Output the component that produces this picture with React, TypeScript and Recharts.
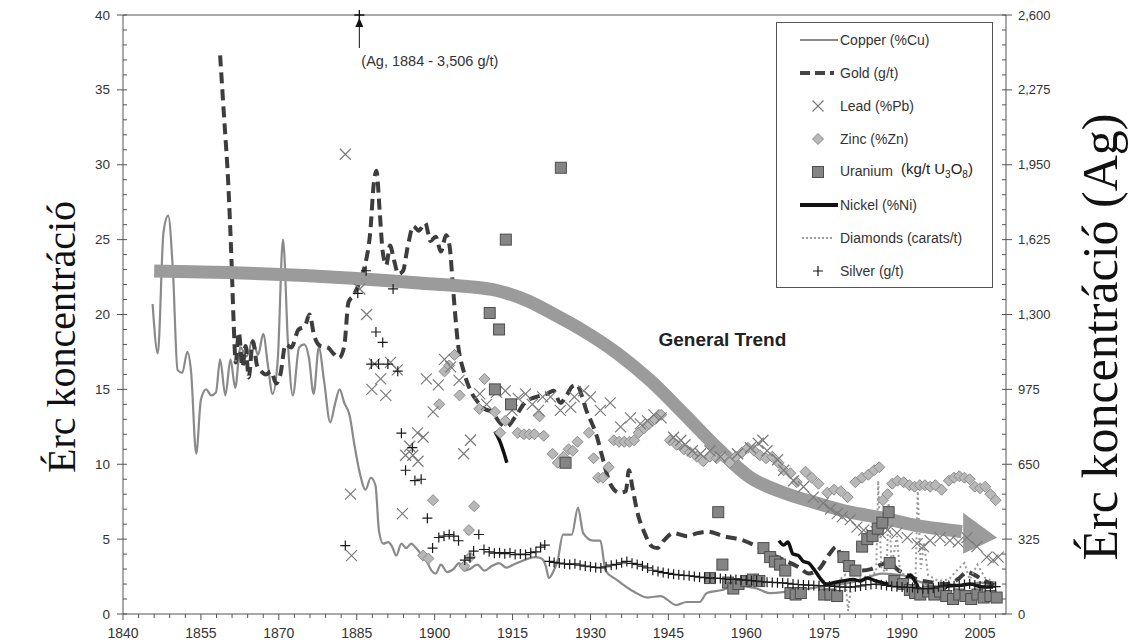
import React from 'react';
import { ComposedChart, Line, Scatter, XAxis, YAxis, ReferenceLine, ReferenceDot, Legend } from 'recharts';

type Pt = [number, number];

// year, % or g/t (left axis)
const copper: Pt[] = [
  [1845.7, 20.7], [1846.7, 17.4], [1847.8, 25.5], [1848.7, 26.6], [1849.6, 23], [1850.5, 16.3], [1851.4, 16.1],
  [1852.4, 17.5], [1853.1, 16.2], [1854.1, 10.7], [1855.0, 14.3], [1856.0, 15.0], [1857.0, 14.6], [1857.9, 14.8],
  [1858.7, 17.0], [1859.7, 14.6], [1860.7, 17.0], [1861.6, 15.1], [1862.6, 17.8], [1863.8, 17.2], [1865.0, 18.3],
  [1866.0, 17.3], [1867.0, 18.7], [1867.9, 16.6], [1868.8, 14.7], [1869.8, 17.0], [1870.8, 25.0], [1871.8, 17.8],
  [1872.7, 14.6], [1873.9, 17.8], [1874.9, 18.0], [1875.8, 17.1], [1876.7, 14.7], [1877.7, 17.8], [1878.7, 15.6],
  [1879.9, 12.8], [1880.8, 14.0], [1881.7, 15.0], [1882.6, 14.1], [1883.6, 13.3], [1884.6, 11.2], [1885.6, 9.4],
  [1886.7, 8.3], [1887.7, 9.1], [1888.6, 8.6], [1889.3, 5.5], [1890.1, 4.7], [1891.1, 4.8], [1891.8, 4.5],
  [1892.6, 3.9], [1893.6, 4.7], [1894.5, 4.4], [1895.5, 4.7], [1896.4, 4.4], [1897.4, 4.0], [1898.5, 3.5],
  [1899.4, 2.9], [1900.2, 2.7], [1901.2, 3.3], [1902.4, 2.8], [1903.6, 3.0], [1904.7, 3.4], [1905.7, 2.9],
  [1906.8, 3.0], [1908.2, 3.3], [1909.6, 2.9], [1911.0, 3.2], [1912.4, 3.4], [1913.8, 3.1], [1915.2, 3.3],
  [1916.6, 3.5], [1918.0, 3.7], [1919.4, 3.8], [1920.6, 3.7], [1921.4, 3.2], [1922.0, 2.4], [1922.8, 2.8],
  [1923.7, 3.6], [1924.7, 5.3], [1926.4, 5.3], [1927.6, 7.1], [1928.6, 5.4], [1930.5, 4.9], [1931.9, 4.9],
  [1932.9, 2.9], [1935.0, 2.3], [1938.3, 1.5], [1941.0, 1.1], [1943.5, 1.2], [1946.5, 0.6], [1948.5, 0.8],
  [1951.0, 0.8], [1952.4, 1.4], [1955.4, 1.6], [1958.0, 1.9], [1962.0, 1.7], [1964.5, 1.4], [1968, 1.5],
  [1972, 1.7], [1976, 1.9], [1980, 2.1], [1983, 2.4], [1986, 2.7], [1990, 2.6], [1993, 2.2], [1997, 1.8],
  [2001, 1.9], [2005, 2.1], [2008, 1.8],
];

const gold: Pt[] = [
  [1858.7, 37.3], [1859.4, 33.5], [1860.3, 28.5], [1860.9, 23.5], [1861.3, 19.5], [1861.7, 16.8], [1862.3, 18.8],
  [1863.0, 16.5], [1863.6, 17.9], [1864.2, 15.8], [1865.0, 18.2], [1865.8, 16.6], [1866.6, 16.2], [1867.5, 16.0],
  [1868.5, 16.2], [1869.5, 15.4], [1870.3, 16.0], [1871.3, 18.0], [1872.4, 17.8], [1873.8, 19.0], [1875.0, 19.2],
  [1875.9, 20.0], [1876.8, 18.6], [1878.0, 17.9], [1879.4, 17.8], [1880.5, 17.4], [1881.6, 17.1], [1882.6, 17.9],
  [1883.4, 20.8], [1884.4, 21.3], [1885.6, 22.2], [1886.6, 23.3], [1887.6, 25.5], [1888.3, 28.8], [1888.8, 29.6],
  [1889.4, 27.0], [1890.0, 24.2], [1890.7, 23.3], [1891.4, 24.6], [1892.2, 23.6], [1893.0, 22.7], [1893.9, 22.9],
  [1894.8, 24.5], [1895.9, 25.9], [1896.9, 25.6], [1898.2, 26.1], [1899.2, 24.9], [1900.2, 25.2], [1901.2, 24.2],
  [1902.2, 25.3], [1902.9, 24.5], [1903.6, 21.5], [1904.5, 18.0], [1905.6, 16.2], [1906.8, 15.0], [1908.2, 14.2],
  [1909.6, 13.7], [1911.0, 13.5], [1912.5, 12.8], [1913.8, 12.5], [1915.4, 13.1], [1917.6, 14.2], [1919.6, 14.5],
  [1921.6, 14.7], [1922.9, 14.9], [1924.2, 14.1], [1925.4, 14.6], [1926.5, 15.2], [1927.4, 15.3], [1928.4, 14.5],
  [1929.2, 13.6], [1930.2, 12.8], [1931.2, 11.9], [1932.2, 10.6], [1933.8, 8.7], [1935.6, 8.1], [1936.8, 8.2],
  [1937.4, 9.6], [1938.1, 8.4], [1939.1, 6.7], [1940.3, 5.5], [1941.9, 4.5], [1942.9, 4.4], [1944.1, 4.9],
  [1946.0, 5.4], [1948.6, 5.2], [1950.6, 5.4], [1952.5, 5.5], [1955.6, 5.2], [1959.5, 4.9], [1962.7, 4.4],
  [1966.0, 3.8], [1968.5, 3.4], [1970.2, 3.1], [1972, 2.7], [1974, 3.0], [1976, 4.0], [1977.4, 4.5],
  [1978.5, 3.5], [1980, 3.2], [1982, 2.9], [1984, 3.0], [1986, 3.3], [1987.5, 3.5], [1989, 3.0], [1991, 2.6],
  [1993, 2.3], [1996, 2.1], [1999, 2.0], [2001, 2.4], [2002.5, 2.8], [2004, 2.6], [2006, 2.2], [2008, 2.0],
];

const lead: Pt[] = [
  [1882.8, 30.7], [1883.8, 8.0], [1884.0, 3.9], [1885.6, 21.7], [1886.9, 20.0], [1887.9, 15.0], [1888.4, 16.7],
  [1889.6, 15.7], [1890.6, 14.6], [1891.5, 16.8], [1892.8, 16.3], [1893.8, 6.7], [1894.4, 10.6], [1895.2, 11.2],
  [1895.8, 10.6], [1896.7, 12.1], [1896.8, 10.2], [1897.8, 11.8], [1898.4, 15.7], [1899.7, 13.5], [1900.7, 15.3],
  [1901.9, 17.0], [1903.1, 16.5], [1904.7, 15.6], [1905.6, 10.7], [1906.9, 11.6], [1908.7, 14.7], [1910.0, 14.0],
  [1911.9, 14.8], [1913.6, 14.9], [1914.9, 13.6], [1916.1, 14.4], [1917.5, 14.7], [1918.8, 14.0], [1920.0, 13.6],
  [1920.8, 14.5], [1922.3, 14.5], [1924.2, 13.6], [1926.2, 13.8], [1926.9, 14.5], [1928.7, 14.9], [1930.0, 14.5],
  [1931.9, 13.6], [1933.8, 14.1], [1935.8, 12.5], [1937.7, 13.1], [1939.6, 12.7], [1941.0, 12.9], [1942.2, 13.3],
  [1943.6, 13.1], [1946.0, 11.8], [1947.4, 11.6], [1948.2, 11.3], [1949.6, 10.9], [1951.2, 10.7], [1953.0, 10.9],
  [1955.0, 10.5], [1958.3, 10.7], [1960.8, 11.1], [1962.3, 11.4], [1963.2, 11.6], [1964.0, 10.9], [1966.0, 10.3],
  [1967.2, 9.6], [1969.1, 8.9], [1971.0, 8.5], [1972.9, 7.8], [1974.8, 7.4], [1976.2, 7.0], [1977.5, 6.7],
  [1978.5, 6.5], [1980.0, 6.3], [1981.3, 5.8], [1982.6, 5.6], [1983.9, 5.4], [1985.0, 5.5], [1985.8, 5.4],
  [1987.2, 5.6], [1989.0, 5.4], [1991.0, 5.1], [1992.9, 4.7], [1994.1, 4.5], [1995.4, 4.9], [1997.3, 5.1],
  [1999.2, 4.9], [2000.8, 4.8], [2002.5, 5.1], [2004.4, 4.5], [2006.3, 3.8], [2007.5, 3.6], [2008.5, 3.8],
];

const zinc: Pt[] = [
  [1897.8, 3.9], [1898.8, 3.7], [1899.7, 7.6], [1900.9, 14.0], [1901.9, 16.2], [1902.8, 16.6], [1903.8, 17.3],
  [1904.8, 14.6], [1905.7, 3.2], [1906.6, 5.6], [1906.8, 3.8], [1907.6, 7.2], [1908.6, 13.7], [1909.6, 15.7],
  [1911.6, 13.5], [1912.6, 12.1], [1913.6, 12.9], [1916.0, 12.1], [1917.2, 12.0], [1918.2, 12.0], [1919.2, 12.0],
  [1920.2, 13.2], [1921.0, 11.9], [1922.7, 10.7], [1923.7, 10.1], [1924.8, 10.5], [1925.8, 11.0], [1926.6, 10.9],
  [1927.5, 11.5], [1929.7, 12.1], [1930.6, 10.4], [1931.5, 9.1], [1932.4, 9.1], [1933.5, 9.8], [1934.5, 11.6],
  [1935.5, 11.5], [1936.5, 11.5], [1937.5, 11.5], [1938.4, 11.6], [1939.3, 12.1], [1940.3, 12.4], [1941.3, 12.7],
  [1942.4, 13.0], [1943.6, 13.3], [1945.3, 11.6], [1946.6, 11.3], [1948.0, 11.0], [1949.2, 10.8], [1950.5, 10.5],
  [1951.7, 10.2], [1953.0, 10.5], [1954.3, 10.4], [1955.5, 10.5], [1956.8, 10.1], [1958.0, 10.5], [1959.2, 10.8],
  [1960.3, 11.1], [1961.5, 10.9], [1962.6, 10.6], [1963.8, 10.4], [1965.0, 10.5], [1966.2, 10.1], [1967.2, 9.6],
  [1968.5, 9.4], [1969.7, 8.8], [1971.4, 9.5], [1972.6, 9.1], [1973.9, 8.7], [1975.6, 8.1], [1976.9, 8.3],
  [1978.2, 8.2], [1979.5, 7.8], [1981.0, 8.8], [1982.3, 9.1], [1983.5, 9.3], [1984.6, 9.6], [1985.6, 9.8],
  [1986.3, 7.6], [1987.2, 8.0], [1988.1, 8.7], [1989.1, 8.9], [1990.3, 8.8], [1991.4, 8.6], [1992.4, 8.5],
  [1993.4, 8.6], [1994.4, 8.6], [1995.4, 8.5], [1996.4, 8.6], [1997.6, 8.3], [1999.0, 8.9], [2000.0, 9.1],
  [2001.0, 9.2], [2002.0, 9.1], [2003.0, 9.0], [2004.0, 8.5], [2005.0, 8.4], [2006.0, 8.5], [2007.0, 8.0],
  [2008.0, 7.6],
];

const uranium: Pt[] = [
  [1910.6, 20.1], [1911.6, 15.0], [1912.4, 19.0], [1913.7, 25.0], [1914.7, 14.0], [1924.3, 29.8], [1925.2, 10.1],
  [1953.0, 2.4], [1954.6, 6.8], [1955.4, 3.3], [1956.5, 2.1], [1957.5, 1.7], [1958.5, 2.0], [1960.0, 2.2],
  [1961.3, 2.3], [1962.5, 2.2], [1963.3, 4.4], [1964.6, 3.8], [1965.5, 3.5], [1966.5, 3.3], [1967.5, 2.9],
  [1968.5, 1.4], [1969.5, 1.3], [1970.5, 1.4], [1975.0, 1.3], [1976.2, 1.3], [1977.5, 1.2], [1978.7, 3.8],
  [1979.8, 3.2], [1981.0, 2.9], [1982.3, 4.5], [1983.3, 5.0], [1984.3, 5.2], [1985.3, 5.7], [1986.2, 6.1],
  [1987.4, 6.8], [1987.6, 3.4], [1988.5, 2.2], [1990.2, 2.0], [1991.5, 1.6], [1992.5, 1.4], [1993.5, 1.3],
  [1995.0, 1.5], [1996.2, 1.3], [1997.3, 1.5], [1998.5, 1.2], [1999.8, 1.0], [2001.0, 1.3], [2002.2, 1.2],
  [2003.3, 1.0], [2004.5, 1.3], [2005.7, 1.1], [2007.0, 1.2], [2008.2, 1.1],
];

const nickelEarly: Pt[] = [[1911.6, 12.2], [1912.6, 11.5], [1913.3, 10.8], [1913.9, 10.1]];
const nickelLate: Pt[] = [
  [1966.3, 4.9], [1967.2, 4.6], [1968.0, 4.8], [1969.0, 4.0], [1970.0, 3.9], [1971.0, 3.5], [1972.0, 3.4],
  [1973.0, 3.0], [1974.2, 2.4], [1975.4, 2.0], [1977, 2.1], [1978.5, 2.2], [1980.6, 2.3], [1982, 2.2],
  [1983.3, 2.4], [1985, 2.2], [1987.7, 2.0], [1990.2, 2.1], [1991.6, 2.6], [1992.6, 2.1], [1993.8, 1.4],
  [1996.7, 1.4], [1999.2, 1.9], [2001, 1.9], [2003, 2.0], [2005.6, 1.8], [2007.5, 1.8],
];

const diamonds: Pt[] = [
  [1975, 1.6], [1977, 2.0], [1979, 2.6], [1979.6, 0.2], [1980.3, 2.2], [1982, 2.4], [1984, 2.6], [1985.0, 2.8],
  [1985.4, 8.9], [1986.0, 3.0], [1987.0, 2.8], [1987.4, 7.4], [1988.0, 3.2], [1989.0, 5.2], [1989.6, 2.8],
  [1991, 2.5], [1992.6, 2.6], [1993.0, 8.2], [1993.6, 3.0], [1994.2, 4.8], [1995, 2.6], [1997, 2.2], [1999, 2.3],
  [2000.5, 2.9], [2002, 3.4], [2003, 2.3], [2004.5, 3.3], [2006, 2.4], [2008, 2.1],
];

// g/t, right axis
const silver: Pt[] = [
  [1882.8, 297], [1885.2, 1392], [1886.8, 1490], [1887.8, 1085], [1888.7, 1224], [1889.2, 1085], [1890.0, 1179],
  [1891.0, 1085], [1892.0, 1411], [1892.9, 1054], [1893.6, 785], [1894.4, 624], [1895.7, 722], [1896.2, 579],
  [1897.4, 585], [1898.6, 416], [1899.6, 286], [1900.8, 332], [1901.8, 338], [1902.8, 345], [1903.7, 338],
  [1904.6, 318], [1905.8, 234], [1906.8, 244], [1907.5, 273], [1908.5, 345], [1909.5, 280], [1910.5, 270],
  [1911.5, 264], [1912.5, 266], [1913.5, 262], [1914.5, 266], [1915.5, 258], [1916.5, 260], [1917.5, 258],
  [1918.5, 266], [1919.5, 270], [1920.4, 290], [1921.2, 299], [1922.1, 228],
  [1923, 224], [1924, 221], [1925, 218], [1926, 215], [1927, 218], [1928, 212], [1929, 208], [1930, 205],
  [1931, 202], [1932, 200], [1933, 205], [1934, 212], [1935, 215], [1936, 222], [1937, 228], [1938, 220],
  [1939, 215], [1940, 208], [1941, 200], [1942, 190], [1943, 185], [1944, 180], [1945, 176], [1946, 172],
  [1947, 170], [1948, 168], [1949, 166], [1950, 163], [1951, 160], [1952, 158], [1953, 156], [1954, 156],
  [1955, 154], [1956, 152], [1957, 150], [1958, 150], [1959, 148], [1960, 147], [1961, 145], [1962, 143],
  [1963, 140], [1964, 138], [1965, 137], [1966, 136], [1967, 135], [1968, 133], [1969, 130], [1970, 128],
  [1971, 126], [1972, 125], [1973, 124], [1974, 123], [1975, 123], [1976, 122], [1977, 120], [1978, 118],
  [1979, 117], [1980, 117], [1981, 118], [1982, 122], [1983, 126], [1984, 128], [1985, 130], [1986, 127],
  [1987, 124], [1988, 120], [1989, 118], [1990, 117], [1991, 116], [1992, 115], [1993, 112], [1994, 110],
  [1995, 110], [1996, 112], [1997, 118], [1998, 122], [1999, 124], [2000, 123], [2001, 125], [2002, 128],
  [2003, 130], [2004, 126], [2005, 121], [2006, 118], [2007, 117], [2008, 119],
];

const trend: Pt[] = [
  [1846, 22.9], [1860, 22.8], [1875, 22.6], [1885, 22.4], [1897, 22.1], [1905, 21.9], [1912, 21.6], [1918, 20.9],
  [1922.5, 20.1], [1928.7, 18.9], [1935.2, 17.4], [1941.5, 15.6], [1947.9, 13.4], [1954.4, 11.1], [1960.8, 9.1],
  [1967.2, 8.1], [1973.6, 7.4], [1980, 6.8], [1986.4, 6.4], [1992.8, 5.9], [1999.2, 5.6], [2001.5, 5.5],
];
const trendTip: Pt = [2008.3, 5.1];

const agOutlier = { year: 1885.5, shownAt: 2600, label: '(Ag, 1884 - 3,506 g/t)' };

const xMajor = [1840, 1855, 1870, 1885, 1900, 1915, 1930, 1945, 1960, 1975, 1990, 2005];
const xTicks = Array.from({ length: 57 }, (_, i) => 1840 + i * 3);
const leftTicks = Array.from({ length: 41 }, (_, i) => i);
const rightTicks = Array.from({ length: 41 }, (_, i) => i * 65);

const rows = (pts: Pt[]) => pts.map(([year, v]) => ({ year, v }));
const nickelRows = [...rows(nickelEarly), { year: 1940, v: null }, ...rows(nickelLate)];

const AXIS = '#555';
const SANS = '"Liberation Sans", Arial, sans-serif';
const SERIF = '"Liberation Serif", "DejaVu Serif", serif';

const XTick = ({ x, y, payload }: any) => {
  const major = xMajor.includes(payload.value);
  return (
    <g>
      <line x1={x} x2={x} y1={y} y2={y + (major ? 6 : 4)} stroke={AXIS} />
      {major && (
        <text x={x} y={y + 19} textAnchor="middle" dominantBaseline="central" fontSize={14} fill="#333" fontFamily={SANS}>
          {payload.value}
        </text>
      )}
    </g>
  );
};

const LeftTick = ({ x, y, payload }: any) => {
  const major = payload.value % 5 === 0;
  return (
    <g>
      <line x1={major ? x - 6 : x} x2={x + 4} y1={y} y2={y} stroke={AXIS} />
      {major && (
        <text x={x - 13} y={y} textAnchor="end" dominantBaseline="central" fontSize={13.5} fill="#333" fontFamily={SANS}>
          {payload.value}
        </text>
      )}
    </g>
  );
};

const RightTick = ({ x, y, payload }: any) => {
  const major = payload.value % 325 === 0;
  return (
    <g>
      <line x1={x - 4} x2={major ? x + 6 : x} y1={y} y2={y} stroke={AXIS} />
      {major && (
        <text x={x + 12} y={y} textAnchor="start" dominantBaseline="central" fontSize={13} fill="#333" fontFamily={SANS}>
          {payload.value.toLocaleString('en-US')}
        </text>
      )}
    </g>
  );
};

const Cross = ({ cx, cy }: any) => (
  <path d={`M${cx - 5.5},${cy - 5.5}L${cx + 5.5},${cy + 5.5}M${cx + 5.5},${cy - 5.5}L${cx - 5.5},${cy + 5.5}`} stroke="#7a7a7a" strokeWidth={1.2} fill="none" />
);
const Diamond = ({ cx, cy }: any) => (
  <path d={`M${cx},${cy - 5.5}L${cx + 5.5},${cy}L${cx},${cy + 5.5}L${cx - 5.5},${cy}Z`} fill="#b8b8b8" stroke="#8c8c8c" strokeWidth={1} />
);
const Square = ({ cx, cy }: any) => (
  <rect x={cx - 5.5} y={cy - 5.5} width={11} height={11} fill="#858585" stroke="#4d4d4d" strokeWidth={1} />
);
const Plus = ({ cx, cy }: any) => (
  <path d={`M${cx - 5},${cy}H${cx + 5}M${cx},${cy - 5}V${cy + 5}`} stroke="#1a1a1a" strokeWidth={1.2} fill="none" />
);

const ArrowHead = ({ cx, cy }: any) => (
  <path d={`M${cx},${cy}L${cx - 34},${cy - 25}L${cx - 34},${cy + 16}Z`} fill="#9b9b9b" />
);

const AgNote = ({ cx, cy }: any) => (
  <g>
    <path d={`M${cx - 5},${cy}H${cx + 5}M${cx},${cy - 5}V${cy + 5}`} stroke="#111" strokeWidth={1.3} />
    <path d={`M${cx},${cy + 3}L${cx - 4},${cy + 12}L${cx + 4},${cy + 12}Z`} fill="#111" />
    <line x1={cx} x2={cx} y1={cy + 12} y2={cy + 33} stroke="#111" strokeWidth={1} />
    <text x={cx + 2} y={cy + 46} fontSize={14.5} fill="#333" fontFamily={SANS} dominantBaseline="central">
      {agOutlier.label}
    </text>
  </g>
);

const TrendLabel = ({ cx, cy }: any) => (
  <text x={cx} y={cy} textAnchor="middle" dominantBaseline="central" fontSize={19} fontWeight="bold" fill="#222" fontFamily={SANS}>
    General Trend
  </text>
);

const legendItems = [
  { name: 'Copper (%Cu)', icon: <line x1={0} x2={38} y1={10} y2={10} stroke="#8a8a8a" strokeWidth={2} /> },
  {
    name: 'Gold (g/t)',
    icon: (
      <g>
        <path d="M0,10H10M15,10H25" stroke="#444" strokeWidth={4} />
        <rect x={30} y={8} width={4} height={4} fill="#444" />
      </g>
    ),
  },
  { name: 'Lead (%Pb)', icon: <Cross cx={18} cy={10} /> },
  { name: 'Zinc (%Zn)', icon: <Diamond cx={18} cy={10} /> },
  { name: 'Uranium', icon: <Square cx={18} cy={10} />, extra: true },
  { name: 'Nickel (%Ni)', icon: <line x1={0} x2={38} y1={10} y2={10} stroke="#111" strokeWidth={4} /> },
  { name: 'Diamonds (carats/t)', icon: <line x1={2} x2={32} y1={10} y2={10} stroke="#999" strokeWidth={2} strokeDasharray="2 2" /> },
  { name: 'Silver (g/t)', icon: <Plus cx={18} cy={10} /> },
];

const LegendBox = () => (
  <div
    style={{
      width: 217,
      height: 266,
      boxSizing: 'border-box',
      border: '1px solid #555',
      background: '#fff',
      fontFamily: SANS,
      fontSize: 14,
      color: '#333',
    }}
  >
    {legendItems.map((item) => (
      <div key={item.name} style={{ height: 33, display: 'flex', alignItems: 'center', paddingLeft: 23 }}>
        <svg width={40} height={20} style={{ flex: 'none' }}>
          {item.icon}
        </svg>
        <span style={{ whiteSpace: 'nowrap' }}>
          {item.name}
          {item.extra && (
            <span style={{ marginLeft: 8, fontSize: 15, color: '#222', position: 'relative', top: -2 }}>
              (kg/t U<sub style={{ fontSize: 10 }}>3</sub>O<sub style={{ fontSize: 10 }}>8</sub>)
            </span>
          )}
        </span>
      </div>
    ))}
  </div>
);

const titleStyle = (left: number, top: number, size: number): React.CSSProperties => ({
  position: 'absolute',
  left,
  top,
  transform: 'translate(-50%, -50%) rotate(-90deg)',
  whiteSpace: 'nowrap',
  fontFamily: SERIF,
  fontSize: size,
  lineHeight: 1,
  color: '#111',
});

export default function App() {
  return (
    <div style={{ position: 'absolute', left: 0, top: 0, width: 1128, height: 643, background: '#fff', overflow: 'hidden' }}>
      <ComposedChart width={1128} height={643} margin={{ top: 15, right: 0, bottom: 0, left: 0 }}>
        <XAxis
          dataKey="year"
          type="number"
          domain={[1840, 2010]}
          ticks={xTicks}
          interval={0}
          tick={<XTick />}
          tickLine={false}
          tickSize={0}
          tickMargin={0}
          height={29}
          stroke={AXIS}
          allowDataOverflow
        />
        <YAxis
          yAxisId="left"
          dataKey="v"
          domain={[0, 40]}
          ticks={leftTicks}
          interval={0}
          tick={<LeftTick />}
          tickLine={false}
          tickSize={0}
          tickMargin={0}
          width={123}
          stroke={AXIS}
          allowDataOverflow
        />
        <YAxis
          yAxisId="right"
          orientation="right"
          dataKey="v"
          domain={[0, 2600]}
          ticks={rightTicks}
          interval={0}
          tick={<RightTick />}
          tickLine={false}
          tickSize={0}
          tickMargin={0}
          width={122}
          stroke={AXIS}
          allowDataOverflow
        />
        <ReferenceLine yAxisId="left" y={40} stroke={AXIS} />

        <Line yAxisId="left" data={rows(copper)} dataKey="v" type="monotone" stroke="#8a8a8a" strokeWidth={2.2} dot={false} activeDot={false} isAnimationActive={false} />
        <Line yAxisId="left" data={rows(gold)} dataKey="v" type="monotone" stroke="#3d3d3d" strokeWidth={4} strokeDasharray="11 6" dot={false} activeDot={false} isAnimationActive={false} />
        <Line yAxisId="left" data={rows(diamonds)} dataKey="v" type="linear" stroke="#9a9a9a" strokeWidth={2} strokeDasharray="2 3" dot={false} activeDot={false} isAnimationActive={false} />
        <Line yAxisId="left" data={rows(trend)} dataKey="v" type="monotone" stroke="#9b9b9b" strokeWidth={13} dot={false} activeDot={false} isAnimationActive={false} />
        <ReferenceDot yAxisId="left" x={trendTip[0]} y={trendTip[1]} shape={<ArrowHead />} ifOverflow="visible" />

        <Scatter yAxisId="left" data={rows(zinc)} dataKey="v" shape={<Diamond />} isAnimationActive={false} />
        <Scatter yAxisId="left" data={rows(lead)} dataKey="v" shape={<Cross />} isAnimationActive={false} />
        <Scatter yAxisId="left" data={rows(uranium)} dataKey="v" shape={<Square />} isAnimationActive={false} />
        <Scatter yAxisId="right" data={rows(silver)} dataKey="v" shape={<Plus />} isAnimationActive={false} />
        <Line yAxisId="left" data={nickelRows} dataKey="v" type="monotone" stroke="#111" strokeWidth={3.5} dot={false} activeDot={false} isAnimationActive={false} />

        <ReferenceDot yAxisId="right" x={agOutlier.year} y={agOutlier.shownAt} shape={<AgNote />} ifOverflow="visible" />
        <ReferenceDot yAxisId="left" x={1955.4} y={18.3} shape={<TrendLabel />} />

        <Legend
          layout="vertical"
          align="center"
          verticalAlign="middle"
          content={<LegendBox />}
          wrapperStyle={{ position: 'absolute', left: 776, top: 22, width: 217, height: 266 }}
        />
      </ComposedChart>
      <div style={titleStyle(62, 337, 40)}>Érc koncentráció</div>
      <div style={titleStyle(1100, 337, 50)}>Érc koncentráció (Ag)</div>
    </div>
  );
}
